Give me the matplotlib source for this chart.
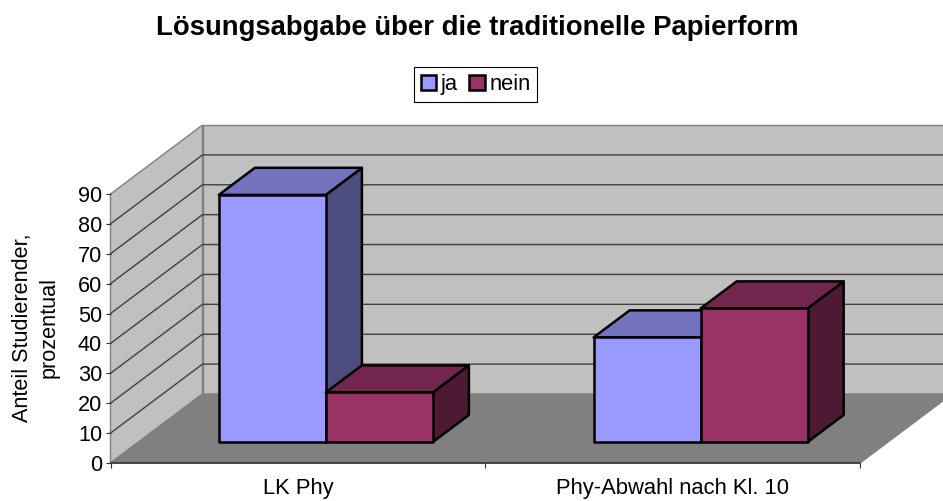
import matplotlib
matplotlib.use('Agg')
import matplotlib.pyplot as plt
from matplotlib.patches import Patch

plt.rcParams['font.family'] = ['Liberation Sans', 'DejaVu Sans']

categories = ['LK Phy', 'Phy-Abwahl nach Kl. 10']
series_names = ['ja', 'nein']
ja = [82.7, 35.0]
nein = [16.6, 44.7]
y_ticks = [0, 10, 20, 30, 40, 50, 60, 70, 80, 90]

front_cols = ['#9999FF', '#993366']
top_cols = ['#7373BF', '#73264D']
side_cols = ['#4D4D80', '#4D1A33']

W, H = 943, 501
fig = plt.figure(figsize=(W / 100, H / 100), dpi=100)
ax = fig.add_axes([110.5 / W, (H - 463.0) / H, 749.5 / W, 269.0 / H])
ax.set_xlim(0, 2)
ax.set_ylim(0, 90)
ax.patch.set_visible(False)
for s in ax.spines.values():
    s.set_visible(False)

# depth of the 3d box, in x units and value units
depth_x = 92 / 749.5 * 2
depth_y = 69 / 269.0 * 90
bar_w = 107 / 749.5 * 2
z0, z1 = 0.304, 0.696


def proj(x, y, z):
    return x + z * depth_x, y + z * depth_y


def face(pts, color, **kw):
    xy = [proj(*p) for p in pts]
    ax.fill([p[0] for p in xy], [p[1] for p in xy], facecolor=color, clip_on=False, **kw)


top = max(y_ticks)
wall_edge = '#808080'
# left wall, back wall, floor
face([(0, 0, 0), (0, 0, 1), (0, top, 1), (0, top, 0)], '#C0C0C0', edgecolor=wall_edge, lw=1, zorder=1)
face([(0, 0, 1), (2, 0, 1), (2, top, 1), (0, top, 1)], '#C0C0C0', edgecolor=wall_edge, lw=1, zorder=1)
face([(0, 0, 0), (2, 0, 0), (2, 0, 1), (0, 0, 1)], '#808080', edgecolor=wall_edge, lw=1, zorder=2)

for v in y_ticks[1:-1]:
    xs, ys = zip(proj(0, v, 0), proj(0, v, 1), proj(2, v, 1))
    ax.plot(xs, ys, color='#404040', lw=1, clip_on=False, zorder=2)

ax.plot([0, 2], [0, 0], color='#303030', lw=1.1, clip_on=False, zorder=3)

z = 4
for i in range(len(categories)):
    left = i + 0.5 - bar_w
    for j, vals in enumerate([ja, nein]):
        x0 = left + j * bar_w
        x1 = x0 + bar_w
        v = vals[i]
        kw = dict(edgecolor='black', lw=1.8, joinstyle='round', zorder=z)
        face([(x1, 0, z0), (x1, 0, z1), (x1, v, z1), (x1, v, z0)], side_cols[j], **kw)
        face([(x0, v, z0), (x1, v, z0), (x1, v, z1), (x0, v, z1)], top_cols[j], **kw)
        face([(x0, 0, z0), (x1, 0, z0), (x1, v, z0), (x0, v, z0)], front_cols[j], **kw)
        z += 1

ax.set_yticks(y_ticks)
ax.tick_params(axis='y', length=3.6, width=0.8, color='#303030', labelsize=15.6, pad=2.5)
ax.set_xticks([0, 1, 2])
ax.set_xticklabels([])
ax.set_xticks([0.5, 1.5], minor=True)
ax.set_xticklabels(categories, minor=True)
ax.tick_params(axis='x', which='major', length=3.6, width=0.8, color='#303030')
ax.tick_params(axis='x', which='minor', length=0, labelsize=15.8, pad=11)

fig.text(36 / W, (H - 328) / H, 'Anteil Studierender,\nprozentual', rotation=90,
         ha='center', va='center', multialignment='center', fontsize=15.6, linespacing=1.36)
fig.text(477.5 / W, (H - 28) / H, 'Lösungsabgabe über die traditionelle Papierform',
         ha='center', va='center', fontsize=19.8, fontweight='bold')

handles = [Patch(facecolor=front_cols[k], edgecolor='black', lw=1.8, label=series_names[k]) for k in range(2)]
fig.legend(handles=handles, loc='center', bbox_to_anchor=(475.5 / W, (H - 84.5) / H),
           ncol=2, fontsize=15.8, frameon=True, fancybox=False, edgecolor='black', framealpha=1,
           handlelength=0.72, handleheight=0.72, handletextpad=0.2, columnspacing=0.5,
           borderpad=0.3, borderaxespad=0).get_frame().set_linewidth(0.8)

fig.savefig('out.png', dpi=100)
